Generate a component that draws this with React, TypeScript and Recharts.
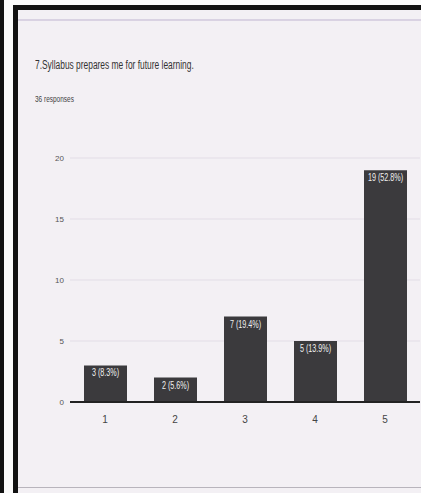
import { Bar, BarChart, CartesianGrid, LabelList, XAxis, YAxis } from "recharts";

const categories = ["1", "2", "3", "4", "5"];
const counts = [3, 2, 7, 5, 19];
const shares = ["8.3%", "5.6%", "19.4%", "13.9%", "52.8%"];
const yTicks = [0, 5, 10, 15, 20];

const data = categories.map((name, i) => ({
  name,
  value: counts[i],
  label: `${counts[i]} (${shares[i]})`,
}));

const FONT = "'Liberation Sans', Arial, sans-serif";

// condensed white label drawn at the top of each bar
function BarLabel(props: any) {
  const { x, y, width, value } = props;
  const cx = Number(x) + Number(width) / 2;
  const cy = Number(y) + 11;
  return (
    <text
      x={0}
      y={0}
      transform={`translate(${cx},${cy}) scale(0.72,1.1)`}
      textAnchor="middle"
      fill="#f0f0f0"
      fontSize={10}
      fontFamily={FONT}
    >
      {value}
    </text>
  );
}

export default function App() {
  return (
    <div
      style={{
        position: "absolute",
        left: 0,
        top: 0,
        width: 421,
        height: 493,
        background: "#f3f0f4",
        overflow: "hidden",
        fontFamily: FONT,
      }}
    >
      {/* scan frame */}
      <div style={{ position: "absolute", left: 0, top: 0, width: 4, height: 493, background: "#111" }} />
      <div style={{ position: "absolute", left: 4, top: 0, width: 9, height: 493, background: "#fafafa" }} />
      <div style={{ position: "absolute", left: 13, top: 5, width: 5, height: 488, background: "#111" }} />
      <div style={{ position: "absolute", left: 13, top: 0, width: 408, height: 5, background: "#fafafa" }} />
      <div style={{ position: "absolute", left: 13, top: 5, width: 408, height: 5, background: "#111" }} />
      <div style={{ position: "absolute", left: 18, top: 19, width: 403, height: 2, background: "#d9d2e2" }} />
      <div style={{ position: "absolute", left: 18, top: 487, width: 403, height: 1, background: "#b8b4bc" }} />

      <div
        style={{
          position: "absolute",
          left: 35,
          top: 58,
          fontSize: 12,
          color: "#333",
          whiteSpace: "nowrap",
          transform: "scaleX(0.7)",
          transformOrigin: "left top",
        }}
      >
        7.Syllabus prepares me for future learning.
      </div>
      <div
        style={{
          position: "absolute",
          left: 35,
          top: 94,
          fontSize: 9,
          color: "#444",
          whiteSpace: "nowrap",
          transform: "scaleX(0.72)",
          transformOrigin: "left top",
        }}
      >
        36 responses
      </div>

      <div style={{ position: "absolute", left: 0, top: 0 }}>
        <BarChart
          width={421}
          height={493}
          data={data}
          margin={{ top: 158, right: 1, bottom: 61, left: 50 }}
          barSize={43}
        >
          <CartesianGrid vertical={false} stroke="#e2dde6" />
          <XAxis
            dataKey="name"
            height={30}
            tickLine={false}
            axisLine={{ stroke: "#222", strokeWidth: 2 }}
            tick={{ fill: "#444", fontSize: 10, fontFamily: FONT }}
            tickMargin={8}
          />
          <YAxis
            width={20}
            domain={[0, 20]}
            ticks={yTicks}
            axisLine={false}
            tickLine={false}
            tickSize={0}
            tickMargin={6}
            tick={{ fill: "#555", fontSize: 8, fontFamily: FONT }}
          />
          <Bar dataKey="value" fill="#3b3a3d" isAnimationActive={false}>
            <LabelList dataKey="label" content={BarLabel} />
          </Bar>
        </BarChart>
      </div>
    </div>
  );
}
